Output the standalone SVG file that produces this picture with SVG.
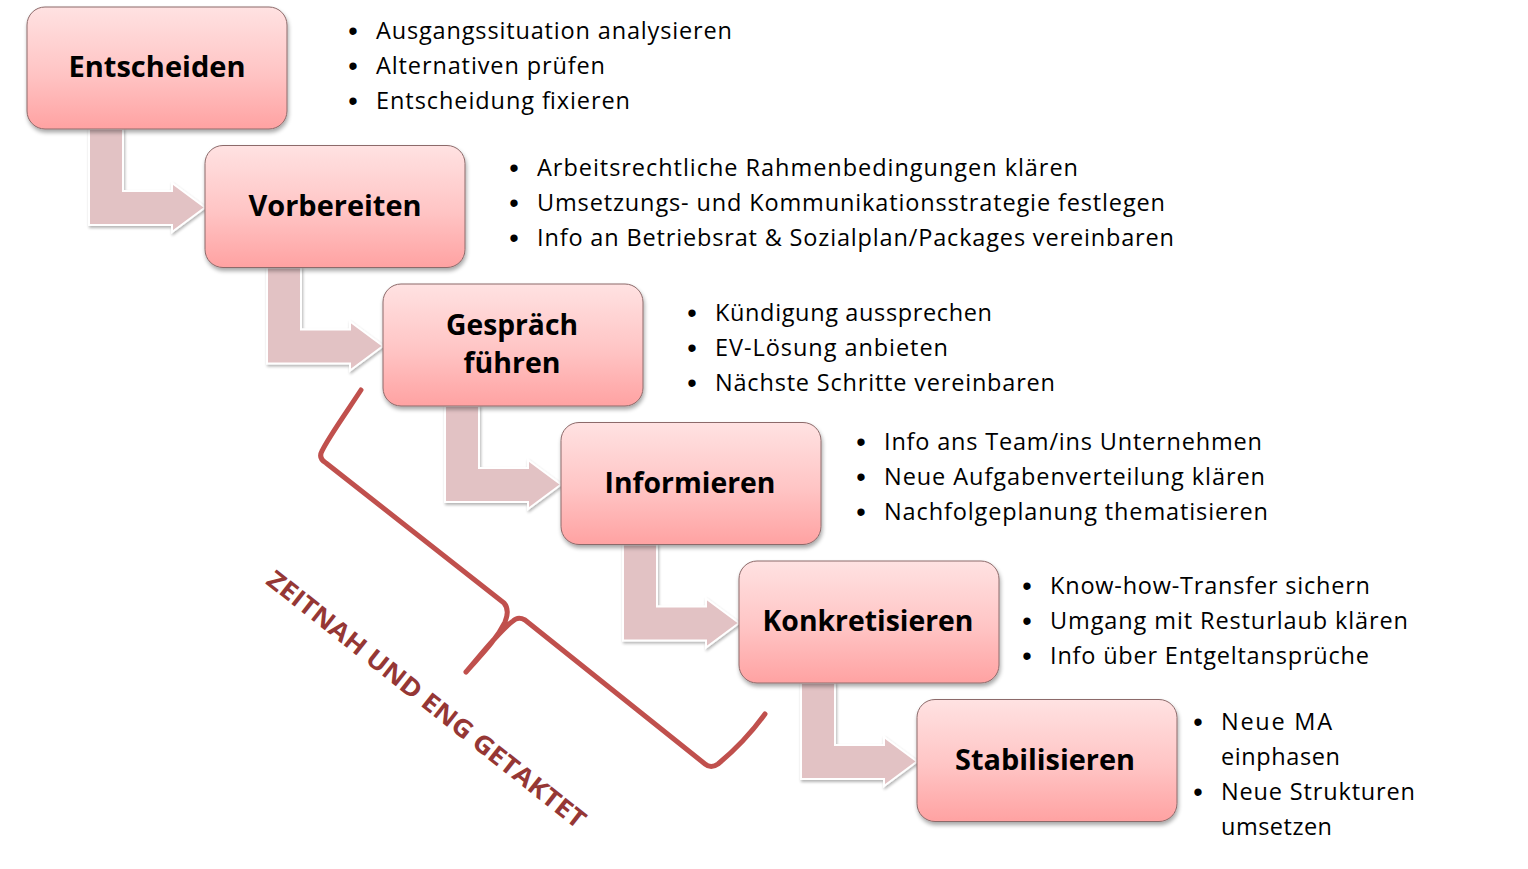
<svg xmlns="http://www.w3.org/2000/svg" width="1528" height="869" viewBox="0 0 1528 869">
<defs>
<linearGradient id="boxg" x1="0" y1="0" x2="0" y2="1">
<stop offset="0" stop-color="#ffe2e2"/>
<stop offset="0.55" stop-color="#ffc4c4"/>
<stop offset="1" stop-color="#ffa2a2"/>
</linearGradient>
<filter id="sh" x="-10%" y="-10%" width="125%" height="130%">
<feGaussianBlur in="SourceAlpha" stdDeviation="2"/>
<feOffset dx="1" dy="3" result="b"/>
<feComponentTransfer><feFuncA type="linear" slope="0.35"/></feComponentTransfer>
<feMerge><feMergeNode/><feMergeNode in="SourceGraphic"/></feMerge>
</filter>
<filter id="ash" x="-10%" y="-10%" width="125%" height="130%">
<feGaussianBlur in="SourceAlpha" stdDeviation="1.5"/>
<feOffset dx="1" dy="2" result="b"/>
<feComponentTransfer><feFuncA type="linear" slope="0.3"/></feComponentTransfer>
<feMerge><feMergeNode/><feMergeNode in="SourceGraphic"/></feMerge>
</filter>
</defs>
<style>
.box{fill:url(#boxg);stroke:#8c6a6a;stroke-width:1;filter:url(#sh)}
.lbl{font-family:"Open Sans","Liberation Sans",sans-serif;font-weight:bold;font-size:29px;fill:#000;text-anchor:middle}
.bt{font-family:"Open Sans","Liberation Sans",sans-serif;font-size:23.5px;fill:#000}
.bu{font-family:"Liberation Sans",sans-serif;font-size:27px;fill:#000;text-anchor:middle}
.arr{fill:#e2c2c4;stroke:#ffffff;stroke-width:2;filter:url(#ash)}
.brace{fill:none;stroke:#c0504d;stroke-width:5;stroke-linecap:round;stroke-linejoin:round}
.zt{font-family:"Open Sans","Liberation Sans",sans-serif;font-weight:bold;font-size:25px;fill:#953735;text-anchor:middle}
</style>
<rect width="1528" height="869" fill="#ffffff"/>
<g id="connectors">
<path class="arr" d="M89 129 L123 129 L123 191 L172 191 L172 183 L205 207.5 L172 232 L172 225 L89 225Z"/>
<path class="arr" d="M267 267.5 L301 267.5 L301 329.5 L350 329.5 L350 321.5 L383 346 L350 370.5 L350 363.5 L267 363.5Z"/>
<path class="arr" d="M445 406 L479 406 L479 468 L528 468 L528 460 L561 484.5 L528 509 L528 502 L445 502Z"/>
<path class="arr" d="M623 544.5 L657 544.5 L657 606.5 L706 606.5 L706 598.5 L739 623 L706 647.5 L706 640.5 L623 640.5Z"/>
<path class="arr" d="M801 683 L835 683 L835 745 L884 745 L884 737 L917 761.5 L884 786 L884 779 L801 779Z"/>
</g>
<g id="node-entscheiden">
<rect class="box" x="27" y="7" width="260" height="122" rx="18"/>
<text class="lbl" x="157" y="77" textLength="177" lengthAdjust="spacingAndGlyphs">Entscheiden</text>
<text class="bu" x="353" y="40">•</text><text class="bt" x="376" y="39" textLength="356">Ausgangssituation analysieren</text>
<text class="bu" x="353" y="75">•</text><text class="bt" x="376" y="74" textLength="229">Alternativen prüfen</text>
<text class="bu" x="353" y="110">•</text><text class="bt" x="376" y="109" textLength="254">Entscheidung fixieren</text>
</g>
<g id="node-vorbereiten">
<rect class="box" x="205" y="145.5" width="260" height="122" rx="18"/>
<text class="lbl" x="335" y="215.5" textLength="173" lengthAdjust="spacingAndGlyphs">Vorbereiten</text>
<text class="bu" x="514" y="177">•</text><text class="bt" x="537" y="176" textLength="541">Arbeitsrechtliche Rahmenbedingungen klären</text>
<text class="bu" x="514" y="212">•</text><text class="bt" x="537" y="211" textLength="628">Umsetzungs- und Kommunikationsstrategie festlegen</text>
<text class="bu" x="514" y="247">•</text><text class="bt" x="537" y="246" textLength="637">Info an Betriebsrat &amp; Sozialplan/Packages vereinbaren</text>
</g>
<g id="node-gespraech">
<rect class="box" x="383" y="284" width="260" height="122" rx="18"/>
<text class="lbl" x="512" y="335" textLength="132" lengthAdjust="spacingAndGlyphs">Gespräch</text>
<text class="lbl" x="512" y="373" textLength="97" lengthAdjust="spacingAndGlyphs">führen</text>
<text class="bu" x="692" y="322">•</text><text class="bt" x="715" y="321" textLength="277">Kündigung aussprechen</text>
<text class="bu" x="692" y="357">•</text><text class="bt" x="715" y="356" textLength="233">EV-Lösung anbieten</text>
<text class="bu" x="692" y="392">•</text><text class="bt" x="715" y="391" textLength="340">Nächste Schritte vereinbaren</text>
</g>
<g id="node-informieren">
<rect class="box" x="561" y="422.5" width="260" height="122" rx="18"/>
<text class="lbl" x="690" y="492.5" textLength="171" lengthAdjust="spacingAndGlyphs">Informieren</text>
<text class="bu" x="861" y="451">•</text><text class="bt" x="884" y="450" textLength="378">Info ans Team/ins Unternehmen</text>
<text class="bu" x="861" y="486">•</text><text class="bt" x="884" y="485" textLength="381">Neue Aufgabenverteilung klären</text>
<text class="bu" x="861" y="521">•</text><text class="bt" x="884" y="520" textLength="384">Nachfolgeplanung thematisieren</text>
</g>
<g id="node-konkretisieren">
<rect class="box" x="739" y="561" width="260" height="122" rx="18"/>
<text class="lbl" x="868" y="631" textLength="211" lengthAdjust="spacingAndGlyphs">Konkretisieren</text>
<text class="bu" x="1027" y="595">•</text><text class="bt" x="1050" y="594" textLength="320">Know-how-Transfer sichern</text>
<text class="bu" x="1027" y="630">•</text><text class="bt" x="1050" y="629" textLength="358">Umgang mit Resturlaub klären</text>
<text class="bu" x="1027" y="665">•</text><text class="bt" x="1050" y="664" textLength="319">Info über Entgeltansprüche</text>
</g>
<g id="node-stabilisieren">
<rect class="box" x="917" y="699.5" width="260" height="122" rx="18"/>
<text class="lbl" x="1045" y="769.5" textLength="180" lengthAdjust="spacingAndGlyphs">Stabilisieren</text>
<text class="bu" x="1198" y="731">•</text><text class="bt" x="1221" y="730" textLength="111">Neue MA</text>
<text class="bt" x="1221" y="765" textLength="119">einphasen</text>
<text class="bu" x="1198" y="801">•</text><text class="bt" x="1221" y="800" textLength="194">Neue Strukturen</text>
<text class="bt" x="1221" y="835" textLength="111">umsetzen</text>
</g>
<g id="brace">
<path class="brace" d="M361 390 C348 410 328 438 322 451 Q318 458 326 463 L504 603 Q510 610 505 622 C495 642 480 656 466 672 C480 656 500 630 513 621 Q518 616 525 620 L705 764 Q711 769 718 764 C735 750 752 732 765 714"/>
<text class="zt" x="426" y="708" transform="rotate(38.3 426 700)" textLength="398" lengthAdjust="spacingAndGlyphs">ZEITNAH UND ENG GETAKTET</text>
</g>
</svg>
